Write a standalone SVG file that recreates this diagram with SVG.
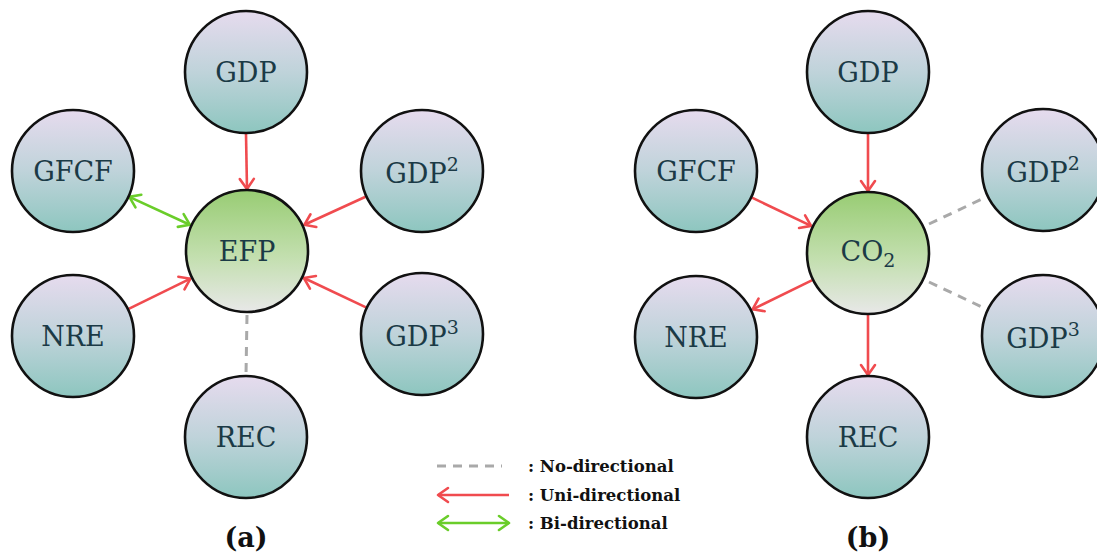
<svg xmlns="http://www.w3.org/2000/svg" width="1097" height="555" viewBox="0 0 1097 555">
<defs>
<linearGradient id="gOuter" x1="0" y1="0" x2="0" y2="1">
<stop offset="0" stop-color="#e6dbee"/>
<stop offset="0.5" stop-color="#bfd3da"/>
<stop offset="1" stop-color="#8dc6bf"/>
</linearGradient>
<linearGradient id="gCenter" x1="0" y1="0" x2="0" y2="1">
<stop offset="0" stop-color="#98cc73"/>
<stop offset="0.55" stop-color="#c3dfaf"/>
<stop offset="1" stop-color="#e8e8e8"/>
</linearGradient>
<marker id="mRed" markerUnits="userSpaceOnUse" viewBox="-14 -10 16 20" refX="0" refY="0" markerWidth="16" markerHeight="20" orient="auto-start-reverse" overflow="visible">
<path d="M -10 -7 L 0 0 L -10 7" fill="none" stroke="#f04b4f" stroke-width="2.6" stroke-linecap="round" stroke-linejoin="round"/>
</marker>
<marker id="mGreen" markerUnits="userSpaceOnUse" viewBox="-14 -10 16 20" refX="0" refY="0" markerWidth="16" markerHeight="20" orient="auto-start-reverse" overflow="visible">
<path d="M -10 -7 L 0 0 L -10 7" fill="none" stroke="#6acd2a" stroke-width="2.6" stroke-linecap="round" stroke-linejoin="round"/>
</marker>
</defs>
<style>
.outer{fill:url(#gOuter);stroke:#111;stroke-width:2.6}
.center{fill:url(#gCenter);stroke:#111;stroke-width:2.6}
.lbl{font-family:"DejaVu Serif","Liberation Serif",serif;font-size:27px;fill:#1b3a46;text-anchor:middle;dominant-baseline:central}
.sup{font-size:19px}
.uni{stroke:#f04b4f;stroke-width:2.6;fill:none;marker-end:url(#mRed)}
.bi{stroke:#6acd2a;stroke-width:2.6;fill:none;marker-end:url(#mGreen);marker-start:url(#mGreen)}
.nod{stroke:#a9a9a9;stroke-width:3;stroke-dasharray:9 7;fill:none}
.leg{font-family:"DejaVu Serif","Liberation Serif",serif;font-size:16.5px;font-weight:bold;fill:#111}
.cap{font-family:"DejaVu Serif","Liberation Serif",serif;font-size:27px;font-weight:bold;fill:#111;text-anchor:middle}
</style>

<g id="connectors">
<!-- panel a -->
<line class="uni" x1="246" y1="134" x2="247" y2="189"/>
<line class="uni" x1="365.6" y1="196.8" x2="304.3" y2="224.8"/>
<line class="uni" x1="366" y1="307.4" x2="303.9" y2="278"/>
<line class="uni" x1="128.7" y1="308.8" x2="190.4" y2="278.7"/>
<line class="bi" x1="129.3" y1="196.9" x2="189.8" y2="224.7"/>
<line class="nod" x1="247" y1="315" x2="246" y2="375"/>
<!-- panel b -->
<line class="uni" x1="868" y1="134" x2="868" y2="191"/>
<line class="uni" x1="752" y1="197.7" x2="811.1" y2="225.9"/>
<line class="uni" x1="812.3" y1="280.2" x2="752.6" y2="309.3"/>
<line class="uni" x1="868" y1="315" x2="868" y2="375"/>
<line class="nod" x1="929" y1="224" x2="987" y2="196.6"/>
<line class="nod" x1="929" y1="282" x2="987" y2="309.4"/>
</g>

<g id="a-GDP"><circle class="outer" cx="246" cy="72" r="61"/><text class="lbl" x="246" y="72">GDP</text></g>
<g id="a-GFCF"><circle class="outer" cx="73" cy="171" r="61"/><text class="lbl" x="73" y="171">GFCF</text></g>
<g id="a-GDP2"><circle class="outer" cx="422" cy="171" r="61"/><text class="lbl" x="422" y="173">GDP<tspan class="sup" dy="-9">2</tspan></text></g>
<g id="a-EFP"><circle class="center" cx="247" cy="251" r="61"/><text class="lbl" x="247" y="251">EFP</text></g>
<g id="a-NRE"><circle class="outer" cx="73" cy="336" r="61"/><text class="lbl" x="73" y="336">NRE</text></g>
<g id="a-GDP3"><circle class="outer" cx="422" cy="334" r="61"/><text class="lbl" x="422" y="336">GDP<tspan class="sup" dy="-9">3</tspan></text></g>
<g id="a-REC"><circle class="outer" cx="246" cy="437" r="61"/><text class="lbl" x="246" y="437">REC</text></g>

<g id="b-GDP"><circle class="outer" cx="868" cy="72" r="61"/><text class="lbl" x="868" y="72">GDP</text></g>
<g id="b-GFCF"><circle class="outer" cx="696" cy="171" r="61"/><text class="lbl" x="696" y="171">GFCF</text></g>
<g id="b-GDP2"><circle class="outer" cx="1043" cy="170" r="61"/><text class="lbl" x="1043" y="172">GDP<tspan class="sup" dy="-9">2</tspan></text></g>
<g id="b-CO2"><circle class="center" cx="868" cy="253" r="61"/><text class="lbl" x="868" y="251">CO<tspan class="sup" dy="9">2</tspan></text></g>
<g id="b-NRE"><circle class="outer" cx="696" cy="337" r="61"/><text class="lbl" x="696" y="337">NRE</text></g>
<g id="b-GDP3"><circle class="outer" cx="1043" cy="336" r="61"/><text class="lbl" x="1043" y="338">GDP<tspan class="sup" dy="-9">3</tspan></text></g>
<g id="b-REC"><circle class="outer" cx="868" cy="437" r="61"/><text class="lbl" x="868" y="437">REC</text></g>

<g id="legend">
<line class="nod" x1="437" y1="466" x2="502" y2="466"/>
<line class="uni" x1="509" y1="495" x2="438" y2="495"/>
<line class="bi" x1="438" y1="523" x2="509" y2="523"/>
<text class="leg" x="528" y="472">: No-directional</text>
<text class="leg" x="528" y="501">: Uni-directional</text>
<text class="leg" x="528" y="529">: Bi-directional</text>
</g>

<text class="cap" x="246" y="547">(a)</text>
<text class="cap" x="868" y="547">(b)</text>
</svg>
